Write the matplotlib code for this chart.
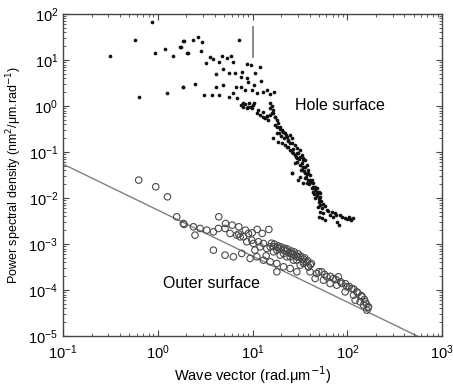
import numpy as np
import matplotlib
matplotlib.use("Agg")
import matplotlib.pyplot as plt
from matplotlib.ticker import LogLocator, NullFormatter

plt.rcParams['font.family'] = ['Liberation Sans', 'DejaVu Sans']

# ---- Hole surface (log10 of wave vector, log10 of PSD) ----
hole_log_k = [
    -0.057, -0.243, -0.504, -0.201, -0.026, 0.080, 0.164, 0.101, 0.245, 0.277, 0.319, 0.263,
    0.27, 0.369, 0.42, 0.467, 0.235, 0.312, 0.453, 0.854, 0.551, 0.586, 0.509, 0.65, 0.678,
    0.728, 0.770, 0.797, 0.692, 0.615, 0.749, 0.819, 0.939, 0.981, 1.079, 0.886, 0.875, 0.939,
    0.956, 1.030, 1.086, 0.27, 0.393, 0.488, 0.573, 0.643, 0.615, 0.692, 0.749, 0.791, 0.826,
    0.833, 0.875, 0.921, 0.991, 1.016, 1.044, 1.114, 1.156, 1.185, 1.227, 0.896, 0.939, 0.981,
    1.016, 1.061, 1.114, 1.15, 1.202, 1.237, 1.185,
    0.875, 0.921, 0.967, 1.009, 0.903, 0.956, 0.991, 1.185, 1.203, 1.213, 1.044, 1.079, 1.108,
    1.132, 1.150, 1.168, 1.185, 1.220, 1.238, 1.256, 1.273, 1.238, 1.291, 1.308, 1.326, 1.284,
    1.344, 1.361, 1.379, 1.397, 1.414, 1.256, 1.220, 1.273, 1.308, 1.344, 1.379, 1.414, 1.449,
    1.467, 1.502, 1.484, 1.520, 1.537, 1.555, 1.432, 1.467, 1.520, 1.537, 1.573, 1.590, 1.555,
    1.608, 1.625, 1.643, 1.660, 1.678, 1.696, 1.713, 1.414, 1.502, 1.555, 1.573, 1.608,
    1.467, 1.502, 1.537, 1.555, 1.58, 1.608, 1.643, 1.678, 1.713, 1.414, 1.484, 1.537, 1.52, 1.449,
    1.643, 1.678, 1.660, 1.696, 1.713, 1.731, 1.713, 1.748, 1.784, 1.819, 1.854, 1.889, 1.907,
    1.872, 1.925, 1.977, 2.03, 2.065, 2.013, 1.731, 1.766, 1.706,
    1.26, 1.29, 1.32, 1.35, 1.30, 1.33, 1.37, 1.40, 1.36, 1.39, 1.42, 1.45, 1.43, 1.46,
    1.49, 1.47, 1.50, 1.53, 1.51, 1.54, 1.57, 1.56, 1.59, 1.62, 1.60, 1.63, 1.66, 1.65,
    1.68, 1.70, 1.72, 1.74, 1.69, 1.76, 1.80, 1.84, 1.88, 1.94, 2.00, 2.04,
]
hole_log_p = [
    1.826, 1.435, 1.094, 0.196, 1.145, 1.239, 1.094, 0.283, 1.29, 1.413, 1.152, 0.42,
    1.42, 1.435, 1.51, 1.39, 1.29, 1.145, 1.20, 1.435, 1.072, 1.015, 0.928, 0.963, 1.087,
    1.037, 1.087, 0.963, 0.80, 0.696, 0.725, 0.725, 0.913, 0.891, 0.855, 0.746, 0.637, 0.60,
    0.53, 0.725, 0.55, 0.42, 0.49, 0.24, 0.24, 0.24, 0.41, 0.457, 0.20, 0.28, 0.41,
    0.167, 0.41, 0.35, 0.35, 0.457, 0.28, 0.31, 0.35, 0.26, 0.31, 0.059, -0.05, -0.015,
    0.059, -0.087, -0.124, -0.217, -0.16, -0.23, -0.05,
    0.021, 0.043, 0.058, 0.029, -0.015, -0.029, -0.051, 0.072, 0.0, -0.087, -0.16, -0.196, -0.232,
    -0.269, -0.218, -0.305, -0.196, -0.16, -0.247, -0.305, -0.377, -0.413, -0.45, -0.522, -0.558, -0.595,
    -0.595, -0.667, -0.74, -0.631, -0.703, -0.595, -0.703, -0.776, -0.812, -0.848, -0.884, -0.812, -0.848,
    -0.921, -0.957, -1.029, -1.066, -1.138, -1.174, -1.029, -1.138, -1.247, -1.319, -1.283, -1.392, -1.464,
    -1.5, -1.609, -1.681, -1.754, -1.79, -1.863, -1.899, -1.464, -1.537, -1.573, -1.681, -1.645,
    -1.029, -1.101, -1.174, -1.319, -1.464, -1.609, -1.754, -1.862, -1.971, -1.464, -1.609, -1.681, -1.391, -1.246,
    -1.862, -1.935, -2.007, -2.08, -2.152, -2.225, -2.297, -2.333, -2.261, -2.37, -2.406, -2.514, -2.587,
    -2.333, -2.37, -2.442, -2.464, -2.442, -2.406, -2.442, -2.478, -2.406,
    -0.45, -0.50, -0.56, -0.62, -0.66, -0.70, -0.75, -0.80, -0.90, -0.95, -1.00, -1.06, -0.93, -1.10,
    -1.15, -1.22, -1.27, -1.32, -1.38, -1.42, -1.47, -1.55, -1.60, -1.66, -1.70, -1.77, -1.82, -1.92,
    -1.95, -2.02, -2.06, -2.12, -2.20, -2.18, -2.28, -2.30, -2.36, -2.40, -2.45, -2.47,
]

# ---- Outer surface ----
outer_log_k = [
    -0.201, -0.021, 0.102, 0.2, 0.278,
    0.644, 0.715, 0.785, 0.855, 0.855, 0.926, 0.996, 1.049, 1.102, 1.172, 1.025, 1.144,
    0.27, 0.376, 0.446, 0.517, 0.587, 0.64, 0.71, 0.763, 0.834, 0.904, 0.957, 0.992, 1.062,
    1.115, 1.186, 1.256, 1.327, 1.397, 1.467, 1.538, 1.59,
    0.869, 0.939, 1.01, 1.08, 1.15, 1.221, 1.291, 1.362, 1.432, 1.503,
    0.393, 0.587, 0.71, 0.798, 0.886, 0.974, 1.045, 1.115, 1.186, 1.256, 1.327, 1.397, 1.467, 1.256,
    1.396, 1.466, 1.537, 1.59, 1.607, 1.678, 1.73, 1.783, 1.854, 1.906, 1.942, 1.995, 2.047,
    2.1, 2.153, 2.188, 2.223, 2.206, 2.135, 2.065, 1.66, 1.748, 1.818, 1.889, 1.977, 2.083, 2.171,
    1.20, 1.23, 1.27, 1.30, 1.34, 1.37, 1.41, 1.44, 1.48, 1.51, 1.55, 1.58, 1.62,
    1.22, 1.26, 1.29, 1.33, 1.36, 1.40, 1.43, 1.47, 1.50, 1.54, 1.57, 1.61,
    1.70, 1.76, 1.82, 1.88, 1.93, 1.98, 2.02, 2.07, 2.11, 2.15, 2.18, 2.20, 2.22,
]
outer_log_p = [
    -1.609, -1.754, -1.971, -2.406, -2.572,
    -2.406, -2.551, -2.587, -2.623, -2.783, -2.696, -2.754, -2.681, -2.768, -2.681, -3.13, -3.254,
    -2.551, -2.623, -2.659, -2.696, -2.732, -2.659, -2.659, -2.768, -2.804, -2.841, -2.768, -2.913, -2.949,
    -2.986, -3.058, -3.131, -3.203, -3.275, -3.348, -3.42, -3.493,
    -2.841, -2.949, -2.986, -3.058, -3.094, -3.167, -3.239, -3.275, -3.348, -3.456,
    -2.804, -3.131, -3.239, -3.275, -3.203, -3.312, -3.275, -3.348, -3.384, -3.42, -3.493, -3.529, -3.601, -3.601,
    -3.203, -3.275, -3.384, -3.493, -3.602, -3.638, -3.602, -3.71, -3.747, -3.71, -3.855, -3.928, -3.964,
    -4.037, -4.145, -4.254, -4.363, -4.435, -4.254, -4.109, -3.747, -3.783, -3.855, -3.891, -4.037, -4.218, -4.326,
    -2.98, -3.00, -3.04, -3.06, -3.09, -3.11, -3.15, -3.17, -3.21, -3.26, -3.30, -3.36, -3.42,
    -3.05, -3.07, -3.10, -3.13, -3.15, -3.19, -3.22, -3.26, -3.29, -3.33, -3.39, -3.45,
    -3.60, -3.66, -3.70, -3.77, -3.82, -3.86, -3.92, -3.98, -4.06, -4.12, -4.20, -4.30, -4.38,
]

# power-law fit line for outer surface
fit_coef = 0.0055
fit_exp = -1.0
fit_k_range = [0.1, 1000.0]

# cut-off marker at k = 10
marker_k = 10.0
marker_p_range = [11.6, 52.0]

hole_k = 10 ** np.array(hole_log_k)
hole_p = 10 ** np.array(hole_log_p)
outer_k = 10 ** np.array(outer_log_k)
outer_p = 10 ** np.array(outer_log_p)

fig = plt.figure(figsize=(4.53, 3.90), dpi=100)
ax = fig.add_axes([0.139, 0.138, 0.837, 0.826])

fk = np.array(fit_k_range)
ax.plot(fk, fit_coef * fk ** fit_exp, color='#808080', lw=1.0, zorder=1)
ax.plot([marker_k, marker_k], marker_p_range, color='#808080', lw=1.3, zorder=1)

ax.scatter(outer_k, outer_p, s=22, facecolors='none', edgecolors='#4a4a4a',
           linewidths=0.8, zorder=2)
ax.scatter(hole_k, hole_p, s=7, color='#111111', linewidths=0, zorder=3)

ax.set_xscale('log')
ax.set_yscale('log')
ax.set_xlim(0.1, 1000)
ax.set_ylim(1e-5, 100)

ax.xaxis.set_major_locator(LogLocator(base=10, numticks=10))
ax.yaxis.set_major_locator(LogLocator(base=10, numticks=10))
ax.xaxis.set_minor_locator(LogLocator(base=10, subs=np.arange(2, 10), numticks=20))
ax.yaxis.set_minor_locator(LogLocator(base=10, subs=np.arange(2, 10), numticks=20))
ax.xaxis.set_minor_formatter(NullFormatter())
ax.yaxis.set_minor_formatter(NullFormatter())

ax.tick_params(which='both', direction='in', top=True, right=True, colors='#444444',
               labelcolor='black', labelsize=10.5)
ax.tick_params(axis='x', which='major', pad=5)
ax.tick_params(which='major', length=4, width=0.8)
ax.tick_params(which='minor', length=2, width=0.6)
for s in ax.spines.values():
    s.set_color('#444444')
    s.set_linewidth(1.0)

ax.set_xlabel('Wave vector (rad.\u03bcm$^{-1}$)', fontsize=10.5, labelpad=2)
ax.set_ylabel('Power spectral density (nm$^2$/\u03bcm.rad$^{-1}$)', fontsize=9, labelpad=3)

ax.text(84, 1.05, 'Hole surface', fontsize=11.5, ha='center', va='center')
ax.text(3.65, 1.42e-4, 'Outer surface', fontsize=11.5, ha='center', va='center')

fig.savefig('out.png', dpi=100)
